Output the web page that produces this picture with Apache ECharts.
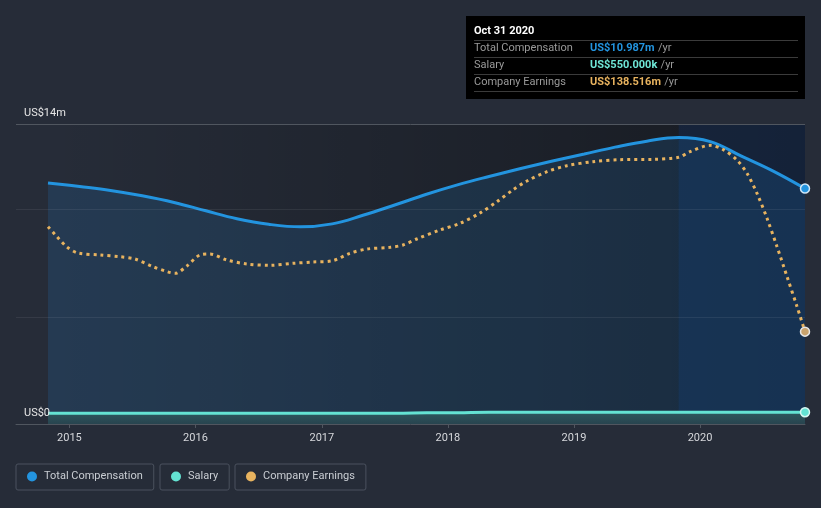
<!DOCTYPE html>
<html><head><meta charset="utf-8">
<script src="https://cdn.jsdelivr.net/npm/echarts@6/dist/echarts.min.js"></script>
<style>html,body{margin:0;padding:0;background:#262c38;}#c{width:821px;height:508px;}</style>
</head><body><div id="c"></div>
<script>
// ---- data (US$ millions) ----
const compDates = ['2014-10-31','2015-01-31','2015-04-30','2015-07-31','2015-10-31','2016-01-31','2016-04-30','2016-07-31','2016-10-31','2017-01-31','2017-04-30','2017-07-31','2017-10-31','2018-01-31','2018-04-30','2018-07-31','2018-10-31','2019-01-31','2019-04-30','2019-07-31','2019-10-31','2020-01-31','2020-04-30','2020-07-31','2020-10-31'];
const compValues = [11.25,11.08,10.90,10.65,10.34,9.95,9.58,9.32,9.20,9.34,9.74,10.22,10.72,11.17,11.55,11.92,12.27,12.60,12.92,13.20,13.37,13.18,12.50,11.80,10.987];
const salaryDates = compDates;
const salaryValues = [0.50,0.50,0.50,0.50,0.50,0.50,0.50,0.50,0.50,0.50,0.50,0.50,0.52,0.53,0.55,0.55,0.55,0.55,0.55,0.55,0.55,0.55,0.55,0.55,0.55];
const earnDates = ['2014-10-31','2014-11-26','2014-12-25','2015-01-26','2015-03-31','2015-05-27','2015-07-10','2015-08-31','2015-10-11','2015-11-03','2015-12-07','2016-01-14','2016-02-12','2016-04-01','2016-05-29','2016-08-04','2016-10-09','2016-12-06','2017-02-02','2017-03-23','2017-05-12','2017-07-17','2017-08-24','2017-10-03','2017-12-09','2018-02-05','2018-04-04','2018-05-23','2018-07-08','2018-08-18','2018-10-15','2018-12-12','2019-02-25','2019-05-14','2019-08-18','2019-10-31','2019-12-03','2020-01-30','2020-03-07','2020-04-17','2020-05-16','2020-06-14','2020-07-13','2020-08-11','2020-09-09','2020-10-08','2020-10-31'];
const earnValues = [296,281,265.5,256.5,253.5,251,247.5,236,228.5,226,237,253.5,255,246,240,238,241,243,245,256,262.5,265,268.5,277.5,291,301,316.5,333.5,351,364.5,378.5,387.5,393.5,396.5,397,400,408.5,418,412,396,376,346,308.5,266,221,176,138.516];
const yTickLabels = {0:'US$0', 14:'US$14m'};
const xTickYears = ['2015','2016','2017','2018','2019','2020'];
const lastYearStart = '2019-10-31';

const FONT = 'Roboto';
const C_COMP = '#2394df', C_SAL = '#64e3d3', C_EARN = '#e8b35f';
const parseD = s => { const p = s.split('-').map(Number); return new Date(p[0], p[1]-1, p[2]).getTime(); };
const startT = parseD(compDates[0]);
const endT = parseD(compDates[compDates.length-1]);
const axisMin = startT - (endT - startT) * 32 / 757;
const yearTicks = xTickYears.map(y => new Date(+y, 0, 1).getTime());

function mkData(dates, vals, color, border){
  return vals.map((v,i) => i === vals.length-1
    ? {value:[parseD(dates[i]), v], symbol:'circle', symbolSize:9, itemStyle:{color:color, borderColor:border, borderWidth:1.5}}
    : [parseD(dates[i]), v]);
}
function mkLegend(name, left){
  return {data:[{name:name, icon:'circle'}], left:left, top:464, padding:[7,11,8,11],
    itemWidth:10, itemHeight:10, borderColor:'#4a515e', borderWidth:1, borderRadius:2,
    selectedMode:false, itemStyle:{borderWidth:0},
    textStyle:{color:'#c9cdd3', fontSize:11, fontFamily:FONT, padding:[0,0,0,2]}};
}
const months = ['Jan','Feb','Mar','Apr','May','Jun','Jul','Aug','Sep','Oct','Nov','Dec'];
const lastD = new Date(endT);
const tipTitle = months[lastD.getMonth()] + ' ' + lastD.getDate() + ' ' + lastD.getFullYear();
const tipRows = [
  ['Total Compensation', 'US$' + compValues[compValues.length-1].toFixed(3) + 'm', C_COMP],
  ['Salary', 'US$' + (salaryValues[salaryValues.length-1]*1000).toFixed(3) + 'k', '#6fe6d6'],
  ['Company Earnings', 'US$' + earnValues[earnValues.length-1].toFixed(3) + 'm', C_EARN]
];
const graphic = [
  {type:'rect', shape:{x:466, y:16, width:339, height:83}, style:{fill:'#000'}, z:100},
  {type:'text', z:101, style:{x:474, y:31, text:tipTitle, fill:'#fff', font:'bold 11px ' + FONT, verticalAlign:'middle'}}
];
[40.5, 57.5, 74.5, 91.5].forEach(y => graphic.push({type:'line', z:101, shape:{x1:474,y1:y,x2:798,y2:y}, style:{stroke:'#3b3b3b', lineWidth:1}}));
tipRows.forEach((r,i) => {
  const y = 48.5 + i*17;
  graphic.push({type:'text', z:101, style:{x:474, y:y, text:r[0], fill:'#9a9a9a', font:'11px ' + FONT, verticalAlign:'middle'}});
  graphic.push({type:'text', z:101, style:{x:590, y:y, text:'{v|' + r[1] + '} {u|/yr}', verticalAlign:'middle',
    rich:{v:{fill:r[2], font:'bold 11px ' + FONT}, u:{fill:'#9a9a9a', font:'11px ' + FONT}}}});
});

const chart = echarts.init(document.getElementById('c'), null, {renderer:'canvas'});
chart.setOption({
  backgroundColor:'#262c38',
  animation:false,
  grid:{left:16, right:16, top:124, bottom:84},
  legend:[mkLegend('Total Compensation',16), mkLegend('Salary',160), mkLegend('Company Earnings',235)],
  xAxis:{type:'value', min:axisMin, max:endT,
    axisLine:{lineStyle:{color:'#50565f', width:1}},
    axisTick:{show:true, length:4, lineStyle:{color:'#50565f'}, customValues:yearTicks},
    axisLabel:{customValues:yearTicks, formatter: v => String(new Date(v).getFullYear()), color:'#d6d8dc', fontSize:11, fontFamily:FONT, margin:9},
    splitLine:{show:false}},
  yAxis:[
    {type:'value', min:0, max:14, interval:5, position:'left', z:6,
     axisLine:{show:false}, axisTick:{show:false},
     axisLabel:{inside:true, margin:8, verticalAlign:'bottom', padding:[0,0,5,0], color:'#e6e6e6', fontSize:11, fontFamily:FONT,
       formatter: v => yTickLabels[v] || ''},
     splitLine:{show:true, lineStyle:{color:['rgba(0,0,0,0)','rgba(255,255,255,0.07)','rgba(255,255,255,0.07)','#50565f'], width:1}}},
    {type:'value', min:0, max:450, show:false, splitLine:{show:false}}
  ],
  series:[
    {name:'Total Compensation', type:'line', yAxisIndex:0, smooth:0.4, symbol:'none', showSymbol:true, z:2,
     data: mkData(compDates, compValues, C_COMP, '#cfe6f7'),
     itemStyle:{color:C_COMP}, lineStyle:{color:C_COMP, width:3},
     areaStyle:{color:'rgba(33,150,243,0.2)'},
     markArea:{silent:true, data:[
       [{xAxis:startT, itemStyle:{color:new echarts.graphic.LinearGradient(0,0,1,0,[{offset:0,color:'rgba(0,0,0,0)'},{offset:1,color:'rgba(0,0,0,0.4)'}])}},{xAxis:endT}],
       [{xAxis:parseD(lastYearStart), itemStyle:{color:'rgba(10,80,190,0.14)'}},{xAxis:endT}]
     ]}},
    {name:'Salary', type:'line', yAxisIndex:0, smooth:0.4, symbol:'none', showSymbol:true, z:3,
     data: mkData(salaryDates, salaryValues, C_SAL, '#d8f7f2'),
     itemStyle:{color:C_SAL}, lineStyle:{color:C_SAL, width:3},
     areaStyle:{opacity:1, color:new echarts.graphic.LinearGradient(0,0,0,1,[{offset:0,color:'#2e585e'},{offset:1,color:'#28444f'}])}},
    {name:'Company Earnings', type:'line', yAxisIndex:1, smooth:0.3, symbol:'none', showSymbol:true, z:4,
     data: mkData(earnDates, earnValues, '#c9a36d', '#e6e6e6'),
     itemStyle:{color:C_EARN}, lineStyle:{color:C_EARN, width:3, type:[3,4]}}
  ],
  graphic: graphic
});
</script></body></html>
